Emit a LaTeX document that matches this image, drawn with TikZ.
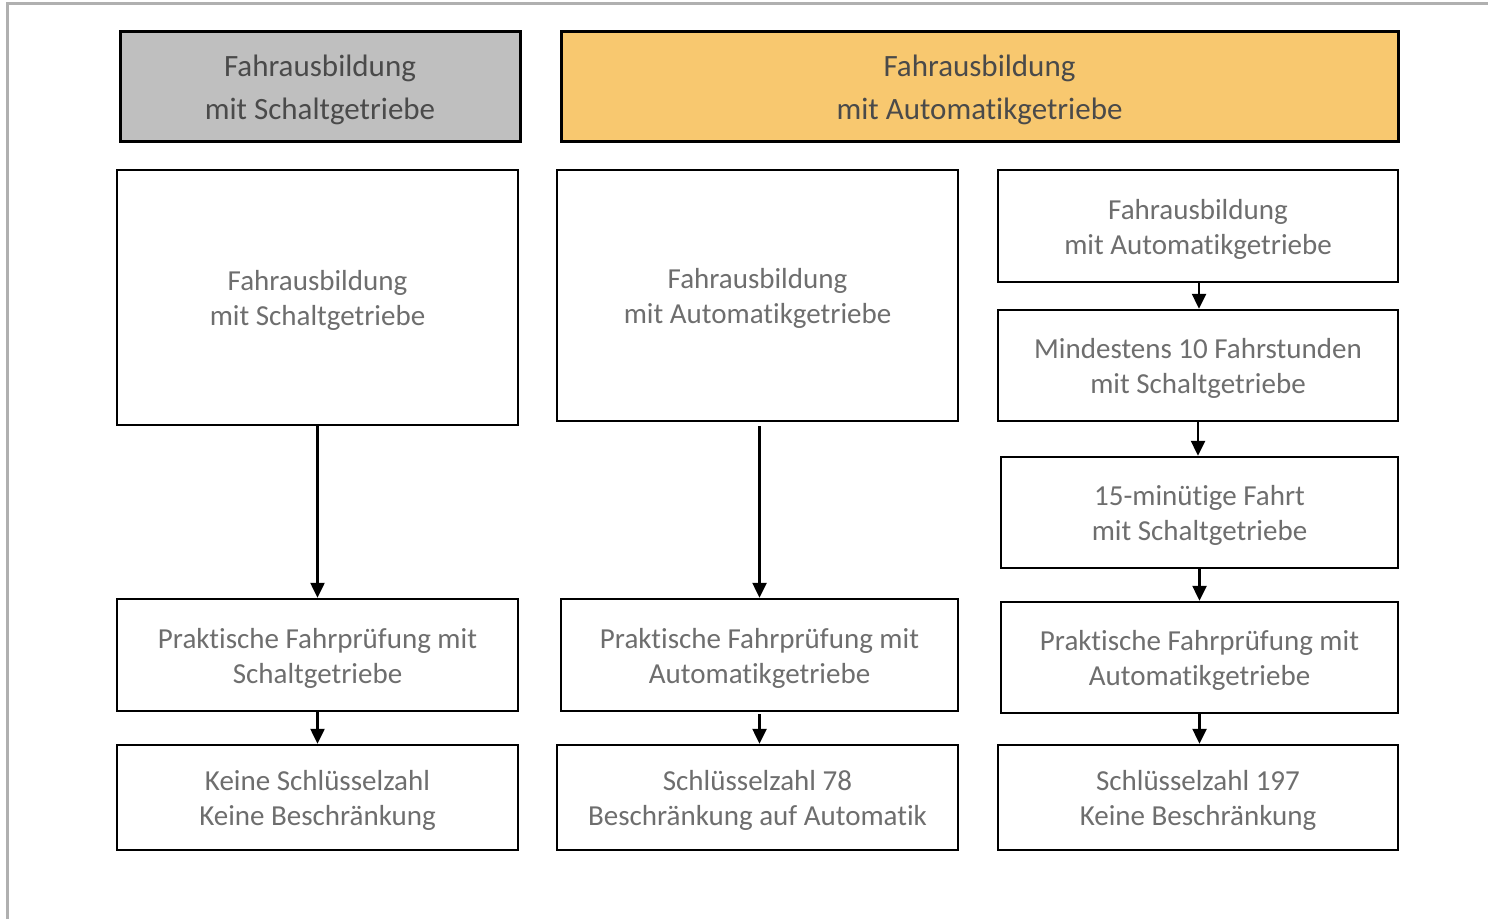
\documentclass[tikz,border=0pt]{standalone}
\usepackage{fontspec}
\setmainfont{Carlito}[Ligatures={NoCommon,NoRare,NoContextual}]
\usetikzlibrary{arrows.meta}
\newcommand{\tnoi}{t\kern0pt i}
\definecolor{hdrgray}{HTML}{BFBFBF}
\definecolor{hdrorange}{HTML}{F8C86F}
\definecolor{bodytxt}{HTML}{6E6E6E}
\definecolor{hdrtxt}{HTML}{4A4A4A}
\definecolor{frame}{HTML}{B0B0B0}
\tikzset{
  hdr/.style={draw=black, line width=3pt},
  box/.style={draw=black, line width=2.5pt},
  hdrtext/.style={text=hdrtxt, align=center, font=\fontsize{31}{43}\selectfont},
  boxtext/.style={text=bodytxt, align=center, font=\fontsize{29}{35}\selectfont},
  arr/.style={line width=2.5pt, -{Triangle[width=14pt,length=15pt]}}
}
\begin{document}
\begin{tikzpicture}[x=1pt,y=-1pt]
\useasboundingbox (0,0) rectangle (1488,919);
\fill[white] (0,0) rectangle (1488,919);
\draw[frame, line width=2.5pt] (7.5,919) -- (7.5,3.5) -- (1488,3.5);
% headers
\node[hdr, fill=hdrgray, minimum width=400pt, minimum height=110pt,
  label={[hdrtext, yshift=-4pt]center:Fahrausbildung\\mit Schaltgetriebe}] (h1) at (320,86) {};
\node[hdr, fill=hdrorange, minimum width=837pt, minimum height=110pt,
  label={[hdrtext, yshift=-4pt]center:Fahrausbildung\\mit Automa\tnoi kgetriebe}] (h2) at (979.5,86) {};
% column 1
\node[box, minimum width=401pt, minimum height=255pt,
  label={[boxtext, yshift=-3pt]center:Fahrausbildung\\mit Schaltgetriebe}] (a1) at (317.5,297.5) {};
\node[box, minimum width=401pt, minimum height=112pt,
  label={[boxtext, yshift=-3pt]center:Prak\tnoi sche Fahrprüfung mit\\Schaltgetriebe}] (a2) at (317.5,655) {};
\node[box, minimum width=401pt, minimum height=105pt,
  label={[boxtext, yshift=-3pt]center:Keine Schlüsselzahl\\Keine Beschränkung}] (a3) at (317.5,797.5) {};
% column 2
\node[box, minimum width=401pt, minimum height=251pt,
  label={[boxtext, yshift=-3pt]center:Fahrausbildung\\mit Automa\tnoi kgetriebe}] (b1) at (757.5,295.5) {};
\node[box, minimum width=397pt, minimum height=112pt,
  label={[boxtext, yshift=-3pt]center:Prak\tnoi sche Fahrprüfung mit\\Automa\tnoi kgetriebe}] (b2) at (759.5,655) {};
\node[box, minimum width=401pt, minimum height=105pt,
  label={[boxtext, yshift=-3pt]center:Schlüsselzahl 78\\Beschränkung auf Automa\tnoi k}] (b3) at (757.5,797.5) {};
% column 3
\node[box, minimum width=400pt, minimum height=112pt,
  label={[boxtext, yshift=-3pt]center:Fahrausbildung\\mit Automa\tnoi kgetriebe}] (c1) at (1198,226) {};
\node[box, minimum width=400pt, minimum height=111pt,
  label={[boxtext, yshift=-3pt]center:Mindestens 10 Fahrstunden\\mit Schaltgetriebe}] (c2) at (1198,365.5) {};
\node[box, minimum width=397pt, minimum height=111pt,
  label={[boxtext, yshift=-3pt]center:15-minü\tnoi ge Fahrt\\mit Schaltgetriebe}] (c3) at (1199.5,512.5) {};
\node[box, minimum width=397pt, minimum height=111pt,
  label={[boxtext, yshift=-3pt]center:Prak\tnoi sche Fahrprüfung mit\\Automa\tnoi kgetriebe}] (c4) at (1199.5,657.5) {};
\node[box, minimum width=400pt, minimum height=105pt,
  label={[boxtext, yshift=-3pt]center:Schlüsselzahl 197\\Keine Beschränkung}] (c5) at (1198,797.5) {};
% arrows
\draw[arr] (a1.south) -- (a2.north);
\draw[arr] (a2.south) -- (a3.north);
\draw[arr] (b1.south -| b2.north) ++(0,4) -- (b2.north);
\draw[arr] (b2.south) ++(0,2) -- (b2.south |- b3.north);
\draw[arr] (c1.south) ++(1,0) -- ([xshift=1pt]c2.north);
\draw[arr] (c2.south) -- (c2.south |- c3.north);
\draw[arr] (c3.south) -- (c4.north);
\draw[arr] (c4.south) -- (c4.south |- c5.north);
\end{tikzpicture}
\end{document}
